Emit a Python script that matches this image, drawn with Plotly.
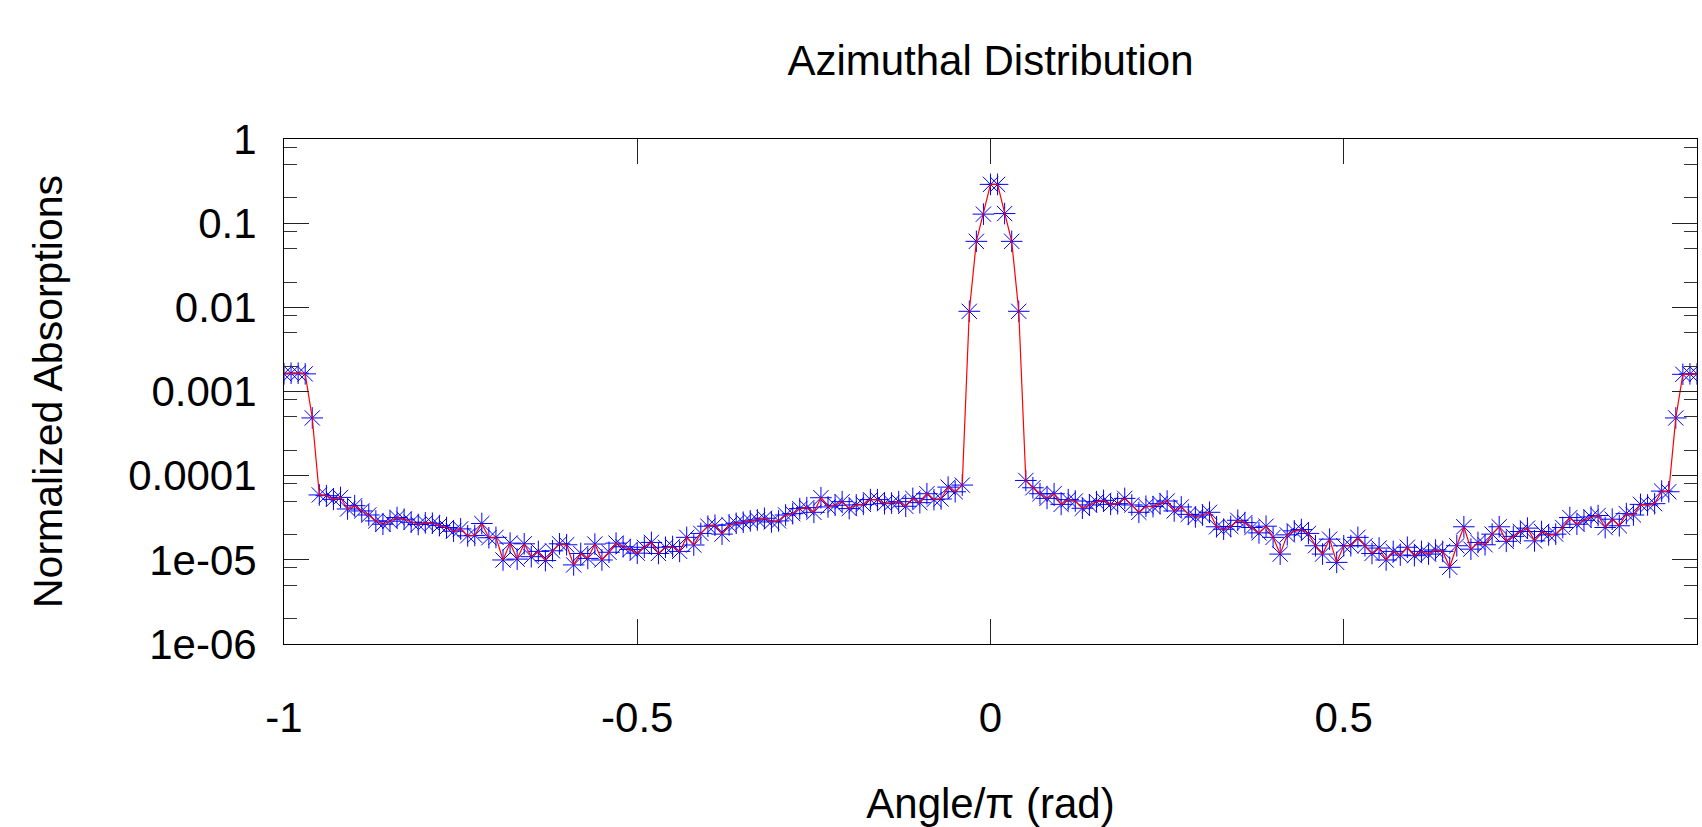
import plotly.graph_objects as go

# Angle / pi (rad) — bin positions
angle = [
    -1.00, -0.99, -0.98, -0.97, -0.96, -0.95, -0.94, -0.93, -0.92, -0.91,
    -0.90, -0.89, -0.88, -0.87, -0.86, -0.85, -0.84, -0.83, -0.82, -0.81,
    -0.80, -0.79, -0.78, -0.77, -0.76, -0.75, -0.74, -0.73, -0.72, -0.71,
    -0.70, -0.69, -0.68, -0.67, -0.66, -0.65, -0.64, -0.63, -0.62, -0.61,
    -0.60, -0.59, -0.58, -0.57, -0.56, -0.55, -0.54, -0.53, -0.52, -0.51,
    -0.50, -0.49, -0.48, -0.47, -0.46, -0.45, -0.44, -0.43, -0.42, -0.41,
    -0.40, -0.39, -0.38, -0.37, -0.36, -0.35, -0.34, -0.33, -0.32, -0.31,
    -0.30, -0.29, -0.28, -0.27, -0.26, -0.25, -0.24, -0.23, -0.22, -0.21,
    -0.20, -0.19, -0.18, -0.17, -0.16, -0.15, -0.14, -0.13, -0.12, -0.11,
    -0.10, -0.09, -0.08, -0.07, -0.06, -0.05, -0.04, -0.03, -0.02, -0.01,
    0.00, 0.01, 0.02, 0.03, 0.04, 0.05, 0.06, 0.07, 0.08, 0.09,
    0.10, 0.11, 0.12, 0.13, 0.14, 0.15, 0.16, 0.17, 0.18, 0.19,
    0.20, 0.21, 0.22, 0.23, 0.24, 0.25, 0.26, 0.27, 0.28, 0.29,
    0.30, 0.31, 0.32, 0.33, 0.34, 0.35, 0.36, 0.37, 0.38, 0.39,
    0.40, 0.41, 0.42, 0.43, 0.44, 0.45, 0.46, 0.47, 0.48, 0.49,
    0.50, 0.51, 0.52, 0.53, 0.54, 0.55, 0.56, 0.57, 0.58, 0.59,
    0.60, 0.61, 0.62, 0.63, 0.64, 0.65, 0.66, 0.67, 0.68, 0.69,
    0.70, 0.71, 0.72, 0.73, 0.74, 0.75, 0.76, 0.77, 0.78, 0.79,
    0.80, 0.81, 0.82, 0.83, 0.84, 0.85, 0.86, 0.87, 0.88, 0.89,
    0.90, 0.91, 0.92, 0.93, 0.94, 0.95, 0.96, 0.97, 0.98, 0.99,
    1.00,
]

# Normalized absorptions
absorptions = [
    1.62e-3, 1.65e-3, 1.65e-3, 1.62e-3, 4.85e-4, 5.90e-5, 5.78e-5, 5.23e-5, 5.52e-5, 4.02e-5,
    4.40e-5, 3.81e-5, 3.41e-5, 2.90e-5, 2.65e-5, 2.88e-5, 3.18e-5, 3.04e-5, 2.80e-5, 2.63e-5,
    2.75e-5, 2.72e-5, 2.55e-5, 2.42e-5, 2.19e-5, 2.33e-5, 1.93e-5, 1.95e-5, 2.70e-5, 1.83e-5,
    1.85e-5, 9.96e-6, 1.58e-5, 1.02e-5, 1.55e-5, 1.09e-5, 1.26e-5, 9.80e-6, 1.28e-5, 1.55e-5,
    1.51e-5, 8.70e-6, 1.19e-5, 1.04e-5, 1.54e-5, 9.96e-6, 1.23e-5, 1.58e-5, 1.43e-5, 1.33e-5,
    1.20e-5, 1.41e-5, 1.61e-5, 1.19e-5, 1.41e-5, 1.44e-5, 1.26e-5, 1.85e-5, 1.50e-5, 2.06e-5,
    2.51e-5, 2.58e-5, 2.02e-5, 2.60e-5, 2.72e-5, 2.80e-5, 2.90e-5, 2.98e-5, 3.12e-5, 2.82e-5,
    2.90e-5, 3.41e-5, 3.54e-5, 4.06e-5, 4.17e-5, 3.67e-5, 5.47e-5, 4.25e-5, 4.45e-5, 4.91e-5,
    4.06e-5, 4.49e-5, 4.56e-5, 5.19e-5, 5.19e-5, 4.65e-5, 4.73e-5, 4.91e-5, 4.33e-5, 5.37e-5,
    4.78e-5, 6.10e-5, 5.19e-5, 5.28e-5, 7.31e-5, 6.44e-5, 7.73e-5, 8.97e-3, 6.08e-2, 1.28e-1,
    2.89e-1, 2.89e-1, 1.30e-1, 6.08e-2, 8.97e-3, 8.77e-5, 7.18e-5, 6.10e-5, 5.37e-5, 6.10e-5,
    4.56e-5, 5.19e-5, 5.00e-5, 4.10e-5, 4.49e-5, 4.91e-5, 5.09e-5, 4.56e-5, 4.65e-5, 5.37e-5,
    4.49e-5, 3.67e-5, 4.33e-5, 4.29e-5, 4.65e-5, 5.00e-5, 3.81e-5, 4.25e-5, 3.47e-5, 3.23e-5,
    3.41e-5, 3.67e-5, 2.47e-5, 2.31e-5, 2.49e-5, 2.95e-5, 2.77e-5, 2.42e-5, 2.09e-5, 2.51e-5,
    1.85e-5, 1.17e-5, 1.98e-5, 2.21e-5, 2.29e-5, 2.06e-5, 1.47e-5, 1.17e-5, 1.76e-5, 9.33e-6,
    1.47e-5, 1.47e-5, 1.85e-5, 1.47e-5, 1.19e-5, 1.38e-5, 9.96e-6, 1.26e-5, 1.14e-5, 1.41e-5,
    1.12e-5, 1.26e-5, 1.17e-5, 1.31e-5, 1.26e-5, 8.15e-6, 1.47e-5, 2.47e-5, 1.34e-5, 1.61e-5,
    1.51e-5, 2.02e-5, 2.47e-5, 1.66e-5, 1.90e-5, 2.17e-5, 2.38e-5, 1.68e-5, 2.17e-5, 1.98e-5,
    2.02e-5, 2.42e-5, 3.18e-5, 2.65e-5, 2.95e-5, 3.23e-5, 3.36e-5, 2.42e-5, 3.04e-5, 2.54e-5,
    3.54e-5, 3.41e-5, 4.56e-5, 4.49e-5, 4.65e-5, 6.56e-5, 6.44e-5, 4.85e-4, 1.60e-3, 1.62e-3,
    1.62e-3,
]

x_tick_vals = [-1, -0.5, 0, 0.5, 1]
x_tick_text = ["-1", "-0.5", "0", "0.5", "1"]
y_tick_vals = [1e-6, 1e-5, 1e-4, 1e-3, 1e-2, 1e-1, 1]
y_tick_text = ["1e-06", "1e-05", "0.0001", "0.001", "0.01", "0.1", "1"]
y_minor_vals = [2e-6, 5e-6, 8e-6, 2e-5, 5e-5, 8e-5, 2e-4, 5e-4, 8e-4,
                2e-3, 5e-3, 8e-3, 2e-2, 5e-2, 8e-2, 2e-1, 5e-1, 8e-1]

FONT = "Liberation Sans, Arial, Helvetica, sans-serif"

fig = go.Figure()
fig.add_trace(go.Scatter(
    x=angle, y=absorptions, mode="markers",
    marker=dict(symbol="asterisk-open", size=18, color="#0000ff",
                line=dict(color="#0000ff", width=1)),
    showlegend=False, hoverinfo="skip",
))
fig.add_trace(go.Scatter(
    x=angle, y=absorptions, mode="lines",
    line=dict(color="#ff0000", width=1.2),
    showlegend=False,
))

fig.update_layout(
    width=1702, height=827,
    margin=dict(l=284, r=4, t=139, b=179),
    paper_bgcolor="white", plot_bgcolor="white",
    font=dict(family=FONT, size=42, color="black"),
    title=dict(text="Azimuthal Distribution", x=0.5, xref="paper", xanchor="center",
               y=1 - 60 / 827, yref="container", yanchor="middle",
               font=dict(family=FONT, size=42, color="black")),
)

fig.update_xaxes(
    range=[-1, 1], showgrid=False, zeroline=False,
    showline=True, linecolor="black", linewidth=1, mirror="ticks",
    ticks="inside", ticklen=25, tickwidth=1, tickcolor="#222222",
    tickmode="array", tickvals=x_tick_vals, ticktext=x_tick_text,
    ticklabelstandoff=37,
    tickfont=dict(family=FONT, size=42, color="black"),
    title=dict(text="Angle/\u03c0 (rad)", standoff=52,
               font=dict(family=FONT, size=42, color="black")),
)

fig.update_yaxes(
    type="log", range=[-6, 0], showgrid=False, zeroline=False,
    showline=True, linecolor="black", linewidth=1, mirror="ticks",
    ticks="inside", ticklen=25, tickwidth=1, tickcolor="#222222",
    tickmode="array", tickvals=y_tick_vals, ticktext=y_tick_text,
    ticklabelstandoff=18,
    tickfont=dict(family=FONT, size=42, color="black"),
    minor=dict(tickmode="array", tickvals=y_minor_vals, ticks="inside",
               ticklen=13, tickwidth=1, tickcolor="#333333", showgrid=False),
    title=dict(text="Normalized Absorptions", standoff=52,
               font=dict(family=FONT, size=41, color="black")),
)

fig.write_html("out.html")
